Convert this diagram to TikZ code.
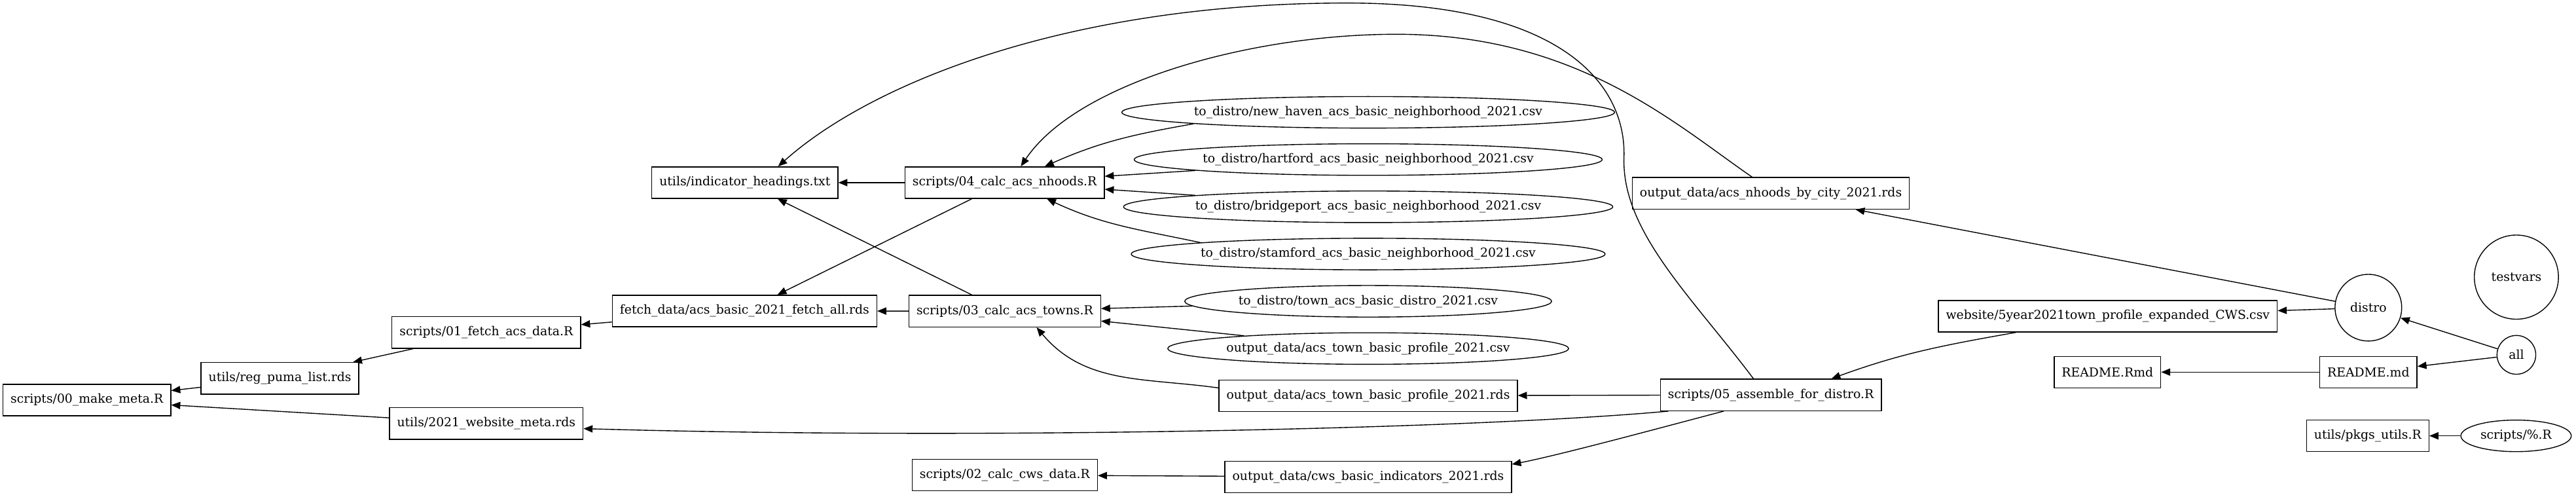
\documentclass[tikz,border=0pt]{standalone}
\usepackage{fontspec}
\setmainfont{DejaVu Serif}
\usetikzlibrary{positioning,arrows.meta,shapes.geometric}

\begin{document}
\begin{tikzpicture}[
      x=1pt, y=1pt,
      file/.style={rectangle, draw, line width=0.55pt, minimum height=19.2pt,
                   inner xsep=4.6pt, inner ysep=0pt, font=\fontsize{7.5}{9}\selectfont},
      goal/.style={ellipse, draw, line width=0.55pt, minimum height=19.2pt,
                   inner sep=0pt, font=\fontsize{7.5}{9}\selectfont},
      dep/.style={-{Triangle[length=5.5pt,width=4.4pt]}, line width=0.55pt},
    ]
    \useasboundingbox (0,0) rectangle (1568,300.85);
    \node[file] (make) at (52.9,57.4) {scripts/00\_make\_meta.R};
    \node[file] (puma) at (170.4,70.6) {utils/reg\_puma\_list.rds};
    \node[file] (webmeta) at (296,43.1) {utils/2021\_website\_meta.rds};
    \node[file] (fetchR) at (296,98.5) {scripts/01\_fetch\_acs\_data.R};
    \node[file] (fetchrds) at (453.2,111.6) {fetch\_data/acs\_basic\_2021\_fetch\_all.rds};
    \node[file] (headings) at (453.4,189.7) {utils/indicator\_headings.txt};
    \node[file] (nhoodsR) at (611.5,189.7) {scripts/04\_calc\_acs\_nhoods.R};
    \node[file] (townsR) at (611.6,111.5) {scripts/03\_calc\_acs\_towns.R};
    \node[file] (cwsR) at (611.6,11.7) {scripts/02\_calc\_cws\_data.R};
    \node[goal, minimum width=284.2pt] (newhaven) at (832.8,232.5) {to\_distro/new\_haven\_acs\_basic\_neighborhood\_2021.csv};
    \node[goal, minimum width=270.8pt, below=9pt of newhaven] (hartford) {to\_distro/hartford\_acs\_basic\_neighborhood\_2021.csv};
    \node[goal, minimum width=283.4pt, below=9pt of hartford] (bridgeport) {to\_distro/bridgeport\_acs\_basic\_neighborhood\_2021.csv};
    \node[goal, minimum width=275pt, below=9pt of bridgeport] (stamford) {to\_distro/stamford\_acs\_basic\_neighborhood\_2021.csv};
    \node[goal, minimum width=215.4pt, below=9pt of stamford] (towndistro) {to\_distro/town\_acs\_basic\_distro\_2021.csv};
    \node[goal, minimum width=233.2pt, below=9pt of towndistro] (towncsv) {output\_data/acs\_town\_basic\_profile\_2021.csv};
    \node[file, below=9pt of towncsv] (townrds) {output\_data/acs\_town\_basic\_profile\_2021.rds};
    \node[file, below=29.6pt of townrds] (cwsrds) {output\_data/cws\_basic\_indicators\_2021.rds};
    \node[file] (nhoodsrds) at (1077.9,183.2) {output\_data/acs\_nhoods\_by\_city\_2021.rds};
    \node[file] (assemble) at (1077.9,60.5) {scripts/05\_assemble\_for\_distro.R};
    \node[file] (website) at (1283,108.4) {website/5year2021town\_profile\_expanded\_CWS.csv};
    \node[file] (readmeRmd) at (1282.8,74.4) {README.Rmd};
    \node[file] (readmemd) at (1441.6,74.4) {README.md};
    \node[file] (pkgs) at (1441.2,35.6) {utils/pkgs\_utils.R};
    \node[goal, circle, minimum size=40.6pt] (distro) at (1441.6,113.6) {distro};
    \node[goal, circle, minimum size=51.2pt] (testvars) at (1531.7,132.2) {testvars};
    \node[goal, circle, minimum size=23.6pt] (all) at (1531.7,84.9) {all};
    \node[goal, minimum width=67.2pt] (pct) at (1531.5,35.6) {scripts/\%.R};

    \draw[dep] (puma) -- (make);
    \draw[dep] (webmeta) -- (make);
    \draw[dep] (fetchR) -- (puma);
    \draw[dep] (fetchrds) -- (fetchR);
    \draw[dep] (nhoodsR) -- (fetchrds);
    \draw[dep] (townsR) -- (fetchrds);
    \draw[dep] (nhoodsR) -- (headings);
    \draw[dep] (townsR) -- (headings);
    \draw[dep] (assemble.137) .. controls (1030,120) and (987,160) .. (988.5,205)
      .. controls (990,250) and (950,299) .. (820,299)
      .. controls (650,299) and (530,250) .. (headings.26);
    \draw[dep] (nhoodsrds.139) .. controls (1020,225) and (960,280) .. (850,280)
      .. controls (760,280) and (655,250) .. (nhoodsR.45);
    \draw[dep] (newhaven.south west) to[out=190,in=24] (nhoodsR.22);
    \draw[dep] (hartford) -- (nhoodsR);
    \draw[dep] (bridgeport) -- (nhoodsR);
    \draw[dep] (stamford.north west) to[out=168,in=-25] (nhoodsR.-21);
    \draw[dep] (towndistro) -- (townsR);
    \draw[dep] (towncsv) -- (townsR);
    \draw[dep] (townrds.177) to[out=172,in=-50] (townsR.-27);
    \draw[dep] (cwsrds) -- (cwsR);
    \draw[dep] (assemble) -- (townrds);
    \draw[dep] (assemble.189) .. controls (900,40) and (600,33) .. (webmeta.-3);
    \draw[dep] (assemble.199) .. controls (1020,43) and (950,24) .. (cwsrds.5);
    \draw[dep] (distro) -- (nhoodsrds);
    \draw[dep] (distro) -- (website);
    \draw[dep] (website.190) to[out=190,in=20] (assemble.15);
    \draw[dep] (all) -- (distro);
    \draw[dep] (all) -- (readmemd);
    \draw[dep] (readmemd) -- (readmeRmd);
    \draw[dep] (pct) -- (pkgs);
  \end{tikzpicture}
\end{document}
